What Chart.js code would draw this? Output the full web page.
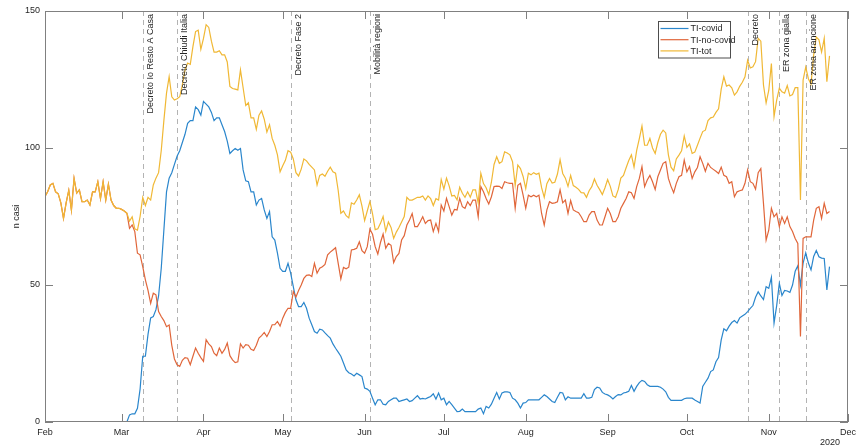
<!DOCTYPE html>
<html><head><meta charset="utf-8">
<script src="https://cdn.jsdelivr.net/npm/chart.js@4"></script>
<style>html,body{margin:0;padding:0;background:#fff;}</style>
</head><body>
<canvas id="c" width="862" height="447"></canvas>
<script>
// Daily values, day 0 = 1 Feb 2020
const tiCovid = [
0,0,0,0,0,0,0,0,0,0,0,0,0,0,0,0,0,0,0,0,0,0,0,0,0,0,0,0,0,0,0,0,
2.6,3,3,5,12,24,24,32,38,38.5,
41,46,56,70,84,89,91,94,97,99,
102,105,109,110,110,115,114,112,117,116,
115,113,110,111,111,108.5,106,102.5,98,99,
99.8,99.2,99.8,92,88,87.7,84,84,79.2,81,
81.6,77.4,74.3,76.8,67.6,66.4,61.6,56.1,55,55,
57.9,54.3,49.4,44.6,42.1,42.1,43.6,41.5,37.9,35.5,
33,32.4,33.9,33.6,32.5,31.5,30.6,28.5,26.9,25.5,
24,21.5,19,18,17.5,16.8,17.8,17.2,16.6,12.4,
12,11.2,8.7,6.3,8.1,8.1,6.5,6.3,7.5,8.1,
8.7,8.7,7.5,7.8,8.1,8.4,7.5,7.8,8.7,9.6,
8.4,8.6,8.4,8.9,9.3,10.3,8.4,10.6,8.1,8.7,
6.3,7.5,6.3,5.1,3.8,3.9,4.7,3.8,3.8,3.8,
3.8,3.8,4.7,5.1,3,5.7,5.1,6.5,8.7,10.8,
8.4,10.6,11,11,10.8,8.7,8.1,6.9,5.1,6.9,
7.1,8.1,8.1,8.1,8.1,8.1,9,9.9,9.3,8.4,
7.5,7.1,9,10.8,10.6,8.1,9.2,8.7,8.7,8.7,
8.7,8.7,10.3,8.7,8.7,9,11.8,12.7,12.4,10.8,
10.2,9.9,9.3,8.4,9.3,10,9.9,10.6,10.8,11.2,
13.3,11.2,13,14.4,15.2,14.8,13.6,13,13,13,
13,12.7,12,11,9,7.9,7.9,7.9,7.9,7.9,
8.5,8.7,8.7,8.7,8,7.5,6.9,13,14.5,16,
18.4,19,22,23.5,30,34,33.3,35,36.3,37,
36.1,38,38.7,39.3,40.3,41.5,42.5,45.5,47.5,46,
44.7,49.4,48.8,52.8,36.1,42.5,50.6,46.2,48,47.8,
47.3,50,55,57,50,58,61.7,58,55.5,60.4,
62.6,60.3,59.8,59.7,48.2,56.7
];
const tiNoCovid = [
82.3,84,86.5,87.1,84,83.3,80,74.3,80,84.6,
77.3,88.9,83.5,84.7,80.4,80.4,81,79.2,84,84,
87.7,81.5,87.7,81,86.8,81,79,78,78,77.6,
77,76.2,70.7,71.9,69.5,61.6,61,56.7,51.9,48,
43.3,47,46.4,40.3,38.5,37,34.8,35.4,28,23,
20.9,20.3,22.5,23.5,23.3,20.9,24,27,25.1,23.5,
22.1,30,28.5,27.5,25.1,24.2,27,25.1,26.5,28.8,
24.2,22.7,21.7,22,28.5,27,28.2,28,26.5,26.1,
28,30.6,31.5,32.7,31.2,33,35.5,35.5,36.7,35,
37.9,40,41.5,41.5,47.6,45.6,48,50,52.4,53.5,
53.7,53.1,57.9,54.3,56.1,56.7,57.5,61,62,62.8,
63.6,57.9,52.2,56.4,55.9,56.5,62.8,63,63.4,65.8,
62.5,61.6,64,70.4,68.5,64,61.3,65.5,68.6,63.4,
65.2,64.5,58.2,60.4,61.5,66.4,68,71.9,73.7,76.1,
71.3,71.3,73,74.9,72.5,73.5,73.7,69.5,72.5,69.5,
79.2,77,81.6,78.6,75.5,77.6,77.4,81.6,78.6,78,
80.4,79,81,81,74.9,85.9,84,81.6,79.6,82.2,
85.9,86.1,86,85.2,87.7,87.3,87.1,87.1,78,86.4,
87.1,82.8,78,82.8,82.2,82.8,82.2,82.8,76.1,71.9,
77.4,80.4,79.8,80,80.4,84.7,80,81,76.1,80.8,
77.4,76.8,76.4,74.9,73.1,73.1,75.5,76.8,76.8,73.7,
71.9,71.9,74.9,78,76.1,73.1,73.1,74.9,78,79.8,
81.6,84,83.7,81.6,85.9,88.9,93.2,85.9,88.3,90,
87.7,84.9,89.5,92,94.4,95,88.9,86,83.7,87.1,
89.5,90,95.6,91.3,93.2,88.9,91.3,92.9,96.8,94.4,
91.5,94.4,92.9,92.2,91.5,90.7,93,90,89.5,87.1,
87.7,82.2,84,84.4,84.7,87.1,92,87.7,87.1,85,
91,92.5,79.8,66.4,70,78,74.9,76.1,71.3,74.9,
72.5,74.9,71.3,69.5,67,65.2,31.2,67,67.6,67.6,
67.6,73.7,78,78.6,74.3,79.8,76.1,76.8
];
const tiTot = [
82.3,84,86.5,87.1,84,83.3,80,74.3,80,84.6,
77.3,88.9,83.5,84.7,80.4,80.4,81,79.2,84,84,
87.7,81.5,87.7,81,86.8,81,79,78,78,77.6,
77,76.2,73.3,74.9,70.5,70,75,82,79,82,
81,86.5,89,91,99,110,120,126,118.7,117.5,
118,118.7,123,128.5,131,130.5,137,142.5,143,136,
140,145,144,139,135,135,135.5,134,134,131.4,
122.5,121.7,121.5,121.2,128.5,122,115.5,116.5,111,111,
106.8,112,113.5,110.5,105.8,108.5,103.5,101,97.5,91.3,
93.5,95.5,99,98.5,96,91,89.8,92.3,96,95.3,
94,93,92,86.5,90,90.5,89.7,91.5,93,91.3,
90.8,84.5,76.2,77,75.3,74.5,80,79.5,81,82.9,
78.8,73.5,77,80.5,76,70.2,70.5,72.5,75,69.6,
73,71,67,69.3,71,73,75,82,81,81,
81.5,82,82,82.5,81,82.5,81.5,79,81.5,81,
88.5,85,89,86.2,82.5,82.7,81.1,85.7,83.5,82,
84,82,84.7,84.7,80,90.8,87,85.5,83,87.5,
94,96.8,94.4,95,98.6,98.2,97.5,95,86.3,93.8,
92.5,89.6,85.2,90.8,90.2,91,90.4,90.8,85.5,82,
87,88.9,87.2,87.5,90.5,95.7,90.7,89,86,90,
86.3,85.7,84.9,83.7,83.6,82,84.4,85.9,88.7,86.4,
84.8,83,85.5,88.5,86,82.5,82,84.8,89,90,
92.8,95.4,97.5,93,99.1,103.4,108,101,101,103.5,
100,98,102,105,106.5,105.5,97.5,93,91.7,96,
97.4,99,104.4,100.2,101.5,98,98.5,101,103.6,106,
106.5,110,111,111.3,113,114.3,121.5,126,122.6,123,
122,119.3,120.5,122.5,124,126,132,129.2,129.6,131.5,
140,139,123,116.5,121,130.8,111.5,117.5,121.8,120.5,
120,122.8,119,119.5,122,122,81,124.8,129.5,125.3,
123.3,134,140.5,139.5,135,140,124.2,133.6
];
const seriesNames = ['TI-covid', 'TI-no-covid', 'TI-tot'];
const seriesColors = ['#2a86cc', '#e0663a', '#f0b835'];
const monthTickDays = [0, 29, 60, 90, 121, 151, 182, 213, 243, 274, 304];
const monthTickLabels = ['Feb', 'Mar', 'Apr', 'May', 'Jun', 'Jul', 'Aug', 'Sep', 'Oct', 'Nov', 'Dec'];
const yTickValues = [0, 50, 100, 150];
const eventDays = [37, 50, 93, 123, 266, 278, 288];
const eventLabels = ['Decreto Io Resto A Casa', 'Decreto Chiudi Italia', 'Decreto Fase 2', 'Mobilità regioni', 'Decreto', 'ER zona gialla', 'ER zona arancione'];
const yearLabel = '2020';
const yTitle = 'n casi';

const FONT = '"Liberation Sans", Arial, sans-serif';
const TXT = '#262626';
const dayIndex = tiCovid.map((_, i) => i);
const toPoints = arr => arr.map((v, i) => ({ x: dayIndex[i], y: v }));

const framePlugin = {
  id: 'matlabFrame',
  beforeDatasetsDraw(chart) {
    const { ctx, chartArea: a, scales: { x } } = chart;
    ctx.save();
    ctx.strokeStyle = '#b3b3b3';
    ctx.lineWidth = 1;
    ctx.setLineDash([5, 4]);
    eventDays.forEach(d => {
      const px = Math.round(x.getPixelForValue(d)) + 0.5;
      ctx.beginPath(); ctx.moveTo(px, a.top); ctx.lineTo(px, a.bottom); ctx.stroke();
    });
    ctx.restore();
  },
  afterDatasetsDraw(chart) {
    const { ctx, chartArea: a, scales: { x, y } } = chart;
    ctx.save();
    // frame box
    ctx.strokeStyle = '#808080';
    ctx.lineWidth = 1;
    ctx.strokeRect(a.left + 0.5, a.top + 0.5, a.right - a.left - 1, a.bottom - a.top - 1);
    // inward ticks
    const tl = 8;
    ctx.beginPath();
    monthTickDays.forEach(v => {
      const px = Math.round(x.getPixelForValue(v)) + 0.5;
      ctx.moveTo(px, a.bottom); ctx.lineTo(px, a.bottom - tl);
      ctx.moveTo(px, a.top); ctx.lineTo(px, a.top + tl);
    });
    yTickValues.forEach(v => {
      const py = Math.round(y.getPixelForValue(v)) + 0.5;
      ctx.moveTo(a.left, py); ctx.lineTo(a.left + tl, py);
      ctx.moveTo(a.right, py); ctx.lineTo(a.right - tl, py);
    });
    ctx.stroke();
    // event labels
    ctx.fillStyle = TXT;
    ctx.font = '9px ' + FONT;
    ctx.textAlign = 'right';
    ctx.textBaseline = 'top';
    eventDays.forEach((d, i) => {
      const px = x.getPixelForValue(d);
      ctx.save();
      ctx.translate(px + 3, a.top + 3);
      ctx.rotate(-Math.PI / 2);
      ctx.fillText(eventLabels[i], 0, 0);
      ctx.restore();
    });
    // legend
    const lw = 72, lh = 36.5;
    const lx = a.right - 190.5, ly = a.top + 10;
    ctx.fillStyle = '#fff';
    ctx.fillRect(lx, ly, lw, lh);
    ctx.strokeStyle = '#4d4d4d';
    ctx.lineWidth = 1;
    ctx.strokeRect(Math.round(lx) + 0.5, Math.round(ly) + 0.5, lw, lh);
    ctx.textAlign = 'left';
    ctx.textBaseline = 'middle';
    chart.data.datasets.forEach((ds, i) => {
      const ry = ly + 7.5 + i * 11.2;
      ctx.strokeStyle = ds.borderColor;
      ctx.lineWidth = 1.2;
      ctx.beginPath(); ctx.moveTo(lx + 3, ry); ctx.lineTo(lx + 31, ry); ctx.stroke();
      ctx.fillStyle = TXT;
      ctx.fillText(ds.label, lx + 33, ry + 0.5);
    });
    // year label
    ctx.textAlign = 'right';
    ctx.fillText(yearLabel, a.right - 8, chart.height - 4);
    ctx.restore();
  }
};

new Chart(document.getElementById('c'), {
  type: 'line',
  data: {
    datasets: [
      { label: seriesNames[0], data: toPoints(tiCovid), borderColor: seriesColors[0], order: 2 },
      { label: seriesNames[1], data: toPoints(tiNoCovid), borderColor: seriesColors[1], order: 1 },
      { label: seriesNames[2], data: toPoints(tiTot), borderColor: seriesColors[2], order: 0 }
    ]
  },
  options: {
    responsive: false,
    animation: false,
    devicePixelRatio: 1,
    layout: { padding: { left: 0, right: 14, top: 11, bottom: 0 } },
    elements: {
      point: { radius: 0 },
      line: { borderWidth: 1.2, tension: 0, fill: false }
    },
    plugins: { legend: { display: false }, tooltip: { enabled: false } },
    scales: {
      x: {
        type: 'linear', min: 0, max: 304,
        afterBuildTicks: s => { s.ticks = monthTickDays.map(v => ({ value: v })); },
        afterFit: s => { s.height = 25; },
        ticks: {
          autoSkip: false, maxRotation: 0, padding: 5, color: TXT,
          font: { family: FONT, size: 9 },
          callback: (v) => monthTickLabels[monthTickDays.indexOf(v)]
        },
        grid: { display: false, drawTicks: false },
        border: { display: false }
      },
      y: {
        min: 0, max: 150,
        afterBuildTicks: s => { s.ticks = yTickValues.map(v => ({ value: v })); },
        afterFit: s => { s.width = 45; },
        ticks: { padding: 5, color: TXT, font: { family: FONT, size: 9 } },
        grid: { display: false, drawTicks: false },
        border: { display: false },
        title: { display: true, text: yTitle, color: TXT, font: { family: FONT, size: 9 }, padding: { top: 11.6, bottom: 0 } }
      }
    }
  },
  plugins: [framePlugin]
});
</script>
</body></html>
